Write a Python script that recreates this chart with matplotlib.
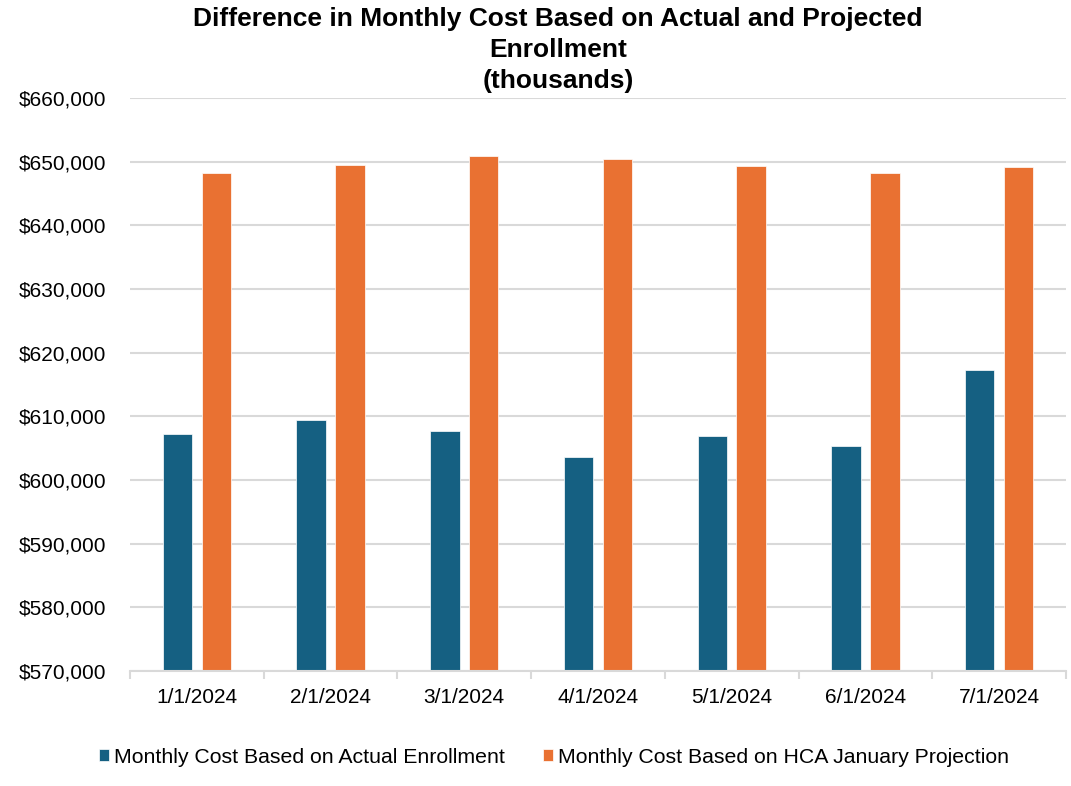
import matplotlib.pyplot as plt
import numpy as np

plt.rcParams['font.family'] = ['Liberation Sans', 'DejaVu Sans']

# Monthly cost, actual vs projected enrollment (thousands of dollars)
months = ["1/1/2024", "2/1/2024", "3/1/2024", "4/1/2024",
          "5/1/2024", "6/1/2024", "7/1/2024"]
actual = [607280, 609480, 607650, 603560, 606860, 605400, 617220]
projected = [648180, 649480, 650850, 650420, 649320, 648270, 649220]

blue = "#156082"
orange = "#E97132"

fig = plt.figure(figsize=(10.71, 7.86), dpi=100)
ax = fig.add_axes([130 / 1071, 1 - 671 / 786, 936 / 1071, 573 / 786])

x = np.arange(len(months))
w = 0.22
ax.bar(x - 0.145, actual, w, color=blue, edgecolor="white", linewidth=0.5,
       label="Monthly Cost Based on Actual Enrollment", zorder=3)
ax.bar(x + 0.145, projected, w, color=orange, edgecolor="white", linewidth=0.5,
       label="Monthly Cost Based on HCA January Projection", zorder=3)

ax.set_ylim(570000, 660000)
ax.set_yticks(np.arange(570000, 660001, 10000))
ax.yaxis.set_major_formatter(plt.FuncFormatter(lambda v, p: "${:,.0f}".format(v)))
ax.set_xlim(-0.5, len(months) - 0.5)
ax.set_xticks(x)
ax.set_xticklabels(months)
ax.set_xticks(np.arange(-0.5, len(months)), minor=True)

ax.grid(axis="y", color="#d9d9d9", linewidth=1.5, zorder=0)
for s in ["top", "right", "left"]:
    ax.spines[s].set_visible(False)
ax.spines["bottom"].set_color("#d9d9d9")
ax.spines["bottom"].set_linewidth(1.5)
ax.spines["bottom"].set_zorder(4)

ax.tick_params(axis="y", length=0, labelsize=15, pad=17)
ax.tick_params(axis="x", which="major", length=0, labelsize=15, pad=12)
ax.tick_params(axis="x", which="minor", length=6, width=1.5, color="#d9d9d9")

fig.suptitle("Difference in Monthly Cost Based on Actual and Projected\nEnrollment\n(thousands)",
             x=558 / 1071, y=0.991, fontsize=19, fontweight="bold", linespacing=1.36)

fig.legend(loc="lower center", bbox_to_anchor=(0.517, 0.0), ncol=2, frameon=False,
           fontsize=15.3, handlelength=0.5, handleheight=0.5, handletextpad=0.2,
           columnspacing=1.8)

fig.savefig("out.png", dpi=100)
